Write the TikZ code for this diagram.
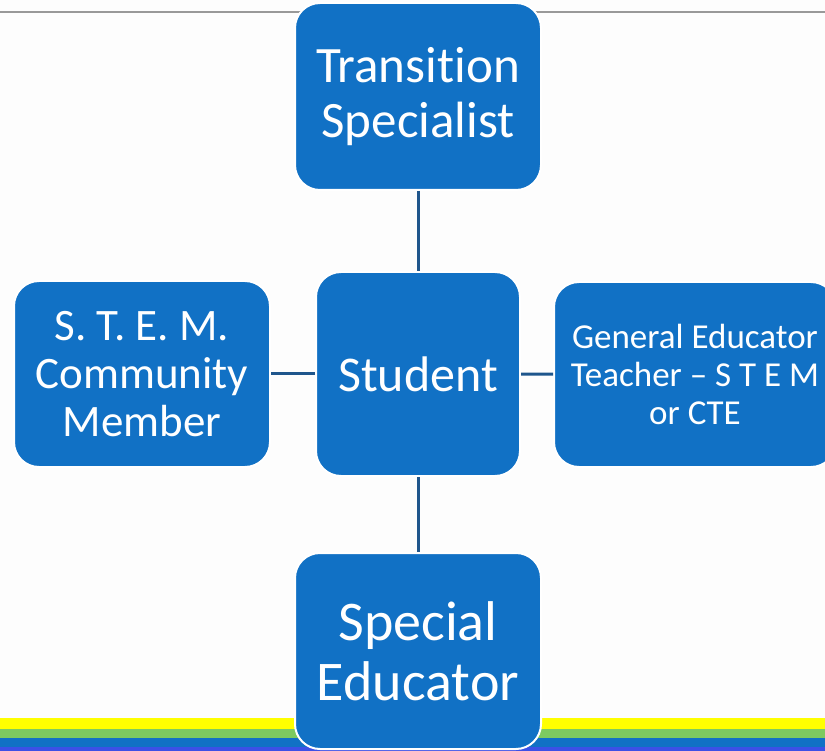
\documentclass[tikz,border=0pt]{standalone}
\usepackage{fontspec}
\setmainfont{Carlito}[Ligatures=CommonOff]
\usepackage{xcolor}
\usetikzlibrary{positioning}

\definecolor{boxblue}{RGB}{17,113,197}
\definecolor{linkblue}{RGB}{31,86,140}
\definecolor{stripeyellow}{RGB}{255,255,0}
\definecolor{stripegreen}{RGB}{125,202,96}
\definecolor{stripeviolet}{RGB}{60,80,230}
\definecolor{pagebg}{RGB}{253,253,253}

\begin{document}
\begin{tikzpicture}[x=1pt, y=-1pt]
	% Styles
	\tikzstyle{role} = [draw=white, line width=2pt, fill=boxblue, rectangle, rounded corners=25pt, inner sep=0pt, align=center, text=white]
	\tikzstyle{link} = [draw=linkblue, line width=3pt]

	% Page
	\clip (0,0) rectangle (825,751);
	\fill[pagebg] (0,0) rectangle (825,751);
	\draw[gray!80, line width=1.5pt] (0,12) -- (825,12);
	\fill[stripeyellow] (0,718) rectangle (825,729);
	\fill[stripegreen] (0,729) rectangle (825,738);
	\fill[boxblue] (0,738) rectangle (825,747);
	\fill[stripeviolet] (0,747) rectangle (825,751);

	% Nodes
	\node (stud) [role, minimum width=204pt, minimum height=204pt, font=\fontsize{50}{58}\selectfont] at (418,374) {Student};
	\node (trans) [role, minimum width=246pt, minimum height=187pt, font=\fontsize{51}{55}\selectfont] at (418,96.5) {Transition\\Specialist};
	\node (stem) [role, minimum width=256pt, minimum height=186pt, font=\fontsize{45}{48}\selectfont] at (142,374) {S. T. E. M.\\Community\\Member};
	\node (gen) [role, minimum width=282pt, minimum height=185pt, font=\fontsize{35}{38}\selectfont] at (695,374.5) {General Educator\\Teacher -- S T E M\\or CTE};
	\node (spec) [role, minimum width=246pt, minimum height=196pt, font=\fontsize{56}{60}\selectfont] at (418,651) {Special\\Educator};

	% Connections
	\draw [link] (trans) -- (stud);
	\draw [link] (stud) -- (stem);
	\draw [link] (stud) -- (gen);
	\draw [link] (stud) -- (spec);
\end{tikzpicture}
\end{document}
